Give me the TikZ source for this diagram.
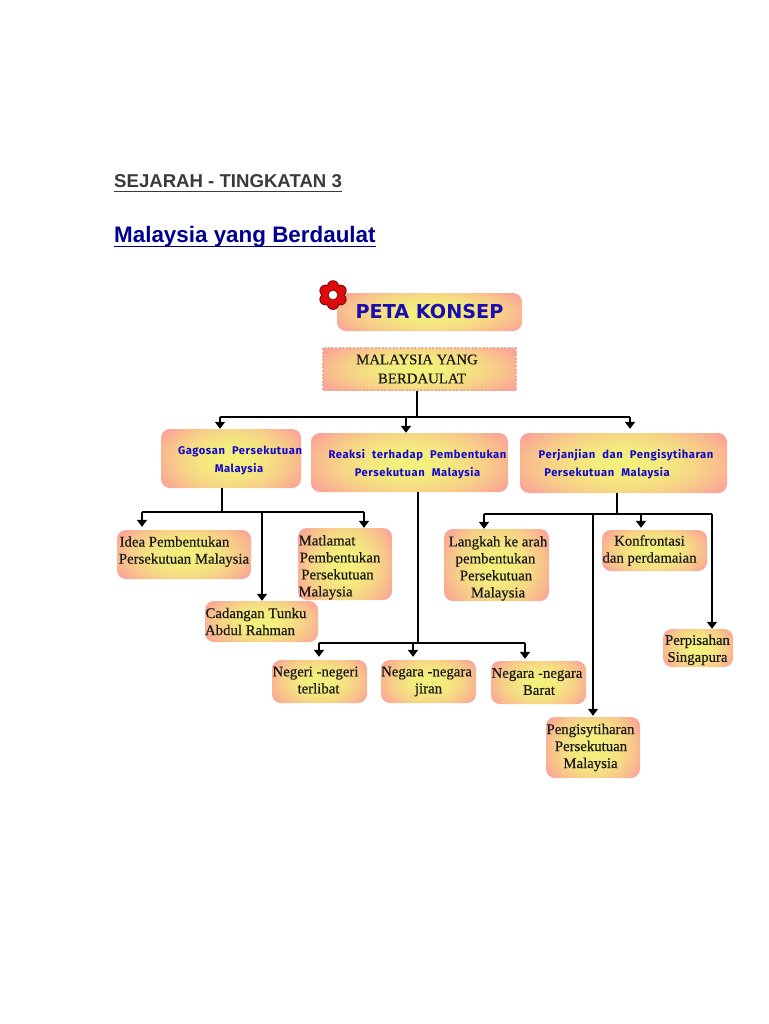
\documentclass[tikz,border=0pt]{standalone}
\usepackage{fontspec}
\usetikzlibrary{arrows.meta}
\setmainfont{Liberation Serif}
\newfontfamily\headfont{Liberation Sans}[Scale=1]
\newfontfamily\boxfont{Liberation Serif}[FakeBold=0.4]
\newfontfamily\blueboxfont{Fira Sans}[LetterSpace=5,WordSpace=2.2]
\newfontfamily\petafont{DejaVu Sans}
\definecolor{headgrey}{HTML}{3A3A3A}
\definecolor{headblue}{HTML}{000090}
\definecolor{labelblue}{HTML}{1208C8}
\definecolor{petablue}{HTML}{1A0CB0}
\definecolor{edgepink}{HTML}{F0A898}
\definecolor{flowerred}{HTML}{E00A0A}
\definecolor{flowerdark}{HTML}{701010}
\pgfdeclarefunctionalshading{boxglow}{\pgfpoint{-50bp}{-50bp}}{\pgfpoint{50bp}{50bp}}{}{dup mul 0.5 mul exch dup mul add 800 div dup 1 gt {pop 1} if dup 0.031 mul 0.953 add exch dup -0.298 mul 0.945 add exch 0.102 mul 0.486 add}
\newcommand\tl[2]{\makebox[0pt][c]{\hspace*{\dimexpr #1pt*2\relax}#2}}
\newcommand\lowdepth[1]{\rule[-#1pt]{0pt}{#1pt}}
\tikzset{
  glowbox/.style={rectangle,rounded corners=9pt,shading=boxglow,inner sep=0pt,draw=none,align=center},
  blackbox/.style={glowbox,text=black!90,font=\boxfont\fontsize{14.8}{17}\selectfont},
  bluebox/.style={glowbox,text=labelblue,font=\blueboxfont\bfseries\fontsize{11.2}{18}\selectfont},
  wire/.style={line width=1.9pt,black},
  thinwire/.style={line width=1.3pt,black},
  tipped/.style={wire,-{Triangle[width=10pt,length=7pt]}},
  thintipped/.style={thinwire,-{Triangle[width=10pt,length=7pt]}},
  heading/.style={anchor=base west,inner sep=0pt},
}
\begin{document}
\begin{tikzpicture}[x=1pt,y=-1pt]
\useasboundingbox (0,0) rectangle (768,1024);
\fill[white] (0,0) rectangle (768,1024);

% headings
\node[heading,text=headgrey,font=\headfont\bfseries\fontsize{18.6}{20}\selectfont] (sej) at (114,187.5) {SEJARAH - TINGKATAN 3};
\draw[headgrey,line width=1pt] ([yshift=-4pt]sej.base west) -- ([yshift=-4pt]sej.base east);
\node[heading,text=headblue,font=\headfont\bfseries\fontsize{22.4}{24}\selectfont] (mal) at (114,242) {Malaysia yang Berdaulat};
\draw[headblue,line width=1.2pt] ([yshift=-4.7pt]mal.base west) -- ([yshift=-4.7pt]mal.base east);

% boxes
\node[glowbox,text=petablue,font=\petafont\bfseries\fontsize{19.2}{20}\selectfont,minimum width=185pt,minimum height=38pt] (peta) at (429.5,312) {PETA KONSEP};
\foreach \a in {90,150,...,450} \fill[flowerdark] (333,295)+(\a:8.8) circle (6);
\foreach \a in {90,150,...,450} \fill[flowerred] (333,295)+(\a:8.8) circle (5.1);
\fill[flowerred] (333,295) circle (9);
\fill[flowerdark] (333,295) circle (5.2);
\fill[white] (333,295) circle (4.3);

\node[blackbox,rounded corners=0pt,draw=edgepink,line width=2.4pt,dash pattern=on 2pt off 1.6pt,minimum width=193pt,minimum height=42pt] (root) at (419.5,369) {\tl{-2.5}{MALAYSIA YANG}\\[2pt]\tl{2.5}{BERDAULAT}};

\node[bluebox,minimum width=140pt,minimum height=59pt] (gag) at (231,458.5) {\rule{0pt}{12pt}\tl{9}{Gagosan Persekutuan}\\\tl{8}{Malaysia}};
\node[bluebox,minimum width=197pt,minimum height=59pt] (rea) at (409.5,462.5) {\rule{0pt}{13pt}\tl{8}{Reaksi terhadap Pembentukan}\\\tl{8}{Persekutuan Malaysia}};
\node[bluebox,minimum width=207pt,minimum height=60pt] (per) at (623.5,463) {\rule{0pt}{11pt}\tl{2.5}{Perjanjian dan Pengisytiharan}\\\tl{-16.5}{Persekutuan Malaysia}};

\node[blackbox,minimum width=134pt,minimum height=49pt] (idea) at (184,554.5) {\tl{-9.5}{Idea Pembentukan}\\\tl{0}{Persekutuan Malaysia}\lowdepth{9}};
\node[blackbox,minimum width=94pt,minimum height=72pt] (mat) at (345,564) {\rule{0pt}{17pt}\tl{-18}{Matlamat}\\\tl{-5}{Pembentukan}\\\tl{-7.5}{Persekutuan}\\\tl{-19.5}{Malaysia}};
\node[blackbox,minimum width=113pt,minimum height=41pt] (cad) at (261.5,621.5) {\tl{-5.5}{Cadangan Tunku}\\\tl{-11.5}{Abdul Rahman}};
\node[blackbox,minimum width=105pt,minimum height=72pt] (lan) at (496.5,565) {\rule{0pt}{17pt}\tl{1.5}{Langkah ke arah}\\\tl{-1}{pembentukan}\\\tl{-0.5}{Persekutuan}\\\tl{1.5}{Malaysia}};
\node[blackbox,minimum width=105pt,minimum height=41pt] (kon) at (654.5,550.5) {\tl{-5}{Konfrontasi}\\\tl{-5}{dan perdamaian}};
\node[blackbox,minimum width=70pt,minimum height=38pt] (pis) at (698,648) {\rule{0pt}{14pt}\tl{-0.5}{Perpisahan}\\\tl{-0.5}{Singapura}};
\node[blackbox,minimum width=95pt,minimum height=43pt] (neg) at (319.5,681.5) {\tl{-4}{Negeri -negeri}\\\tl{-1}{terlibat}\lowdepth{3}};
\node[blackbox,minimum width=95pt,minimum height=43pt] (jir) at (428.5,681.5) {\tl{-2}{Negara -negara}\\\tl{0}{jiran}};
\node[blackbox,minimum width=95pt,minimum height=43pt] (bar) at (538.5,682.5) {\tl{-1.5}{Negara -negara}\\\tl{0.5}{Barat}\lowdepth{2}};
\node[blackbox,minimum width=94pt,minimum height=61pt] (pgy) at (593,747.5) {\tl{-2.5}{Pengisytiharan}\\\tl{-2}{Persekutuan}\\\tl{-2.5}{Malaysia}};

% junctions
\coordinate (j0) at (417,417);
\coordinate (j0a) at (220,417); \coordinate (j0b) at (406,417); \coordinate (j0c) at (630,417);
\coordinate (j1) at (222,512);
\coordinate (j1a) at (142,512); \coordinate (j1b) at (262,512); \coordinate (j1c) at (364,512);
\coordinate (j2) at (418,643);
\coordinate (j2a) at (319,643); \coordinate (j2b) at (413,643); \coordinate (j2c) at (525,643);
\coordinate (j3) at (617,514);
\coordinate (j3a) at (484,514); \coordinate (j3b) at (593,514); \coordinate (j3c) at (641,514); \coordinate (j3d) at (712,514);

% connectors
\draw[wire] (root.south -| j0) -- (j0);
\draw[wire] (j0a) -- (j0c);
\draw[tipped] (j0a) -- (j0a |- gag.north);
\draw[tipped] (j0b) -- (j0b |- rea.north);
\draw[tipped,shorten >=4pt] (j0c) -- (j0c |- per.north);

\draw[wire] (gag.south -| j1) -- (j1);
\draw[wire] (j1a) -- (j1c);
\draw[tipped,shorten >=3pt] (j1a) -- (j1a |- idea.north);
\draw[tipped] (j1b) -- (j1b |- cad.north);
\draw[tipped] (j1c) -- (j1c |- mat.north);

\draw[wire] (rea.south -| j2) -- (j2);
\draw[wire] (j2a) -- (j2c);
\draw[tipped,shorten >=3pt] (j2a) -- (j2a |- neg.north);
\draw[tipped,shorten >=3pt] (j2b) -- (j2b |- jir.north);
\draw[tipped,shorten >=2pt] (j2c) -- (j2c |- bar.north);

\draw[wire] (per.south -| j3) -- (j3);
\draw[wire] (j3a) -- (j3d);
\draw[tipped] (j3a) -- (j3a |- lan.north);
\draw[thintipped,shorten >=1pt] (j3b) -- (j3b |- pgy.north);
\draw[tipped,shorten >=2pt] (j3c) -- (j3c |- kon.north);
\draw[tipped] (j3d) -- (j3d |- pis.north);
\end{tikzpicture}
\end{document}
